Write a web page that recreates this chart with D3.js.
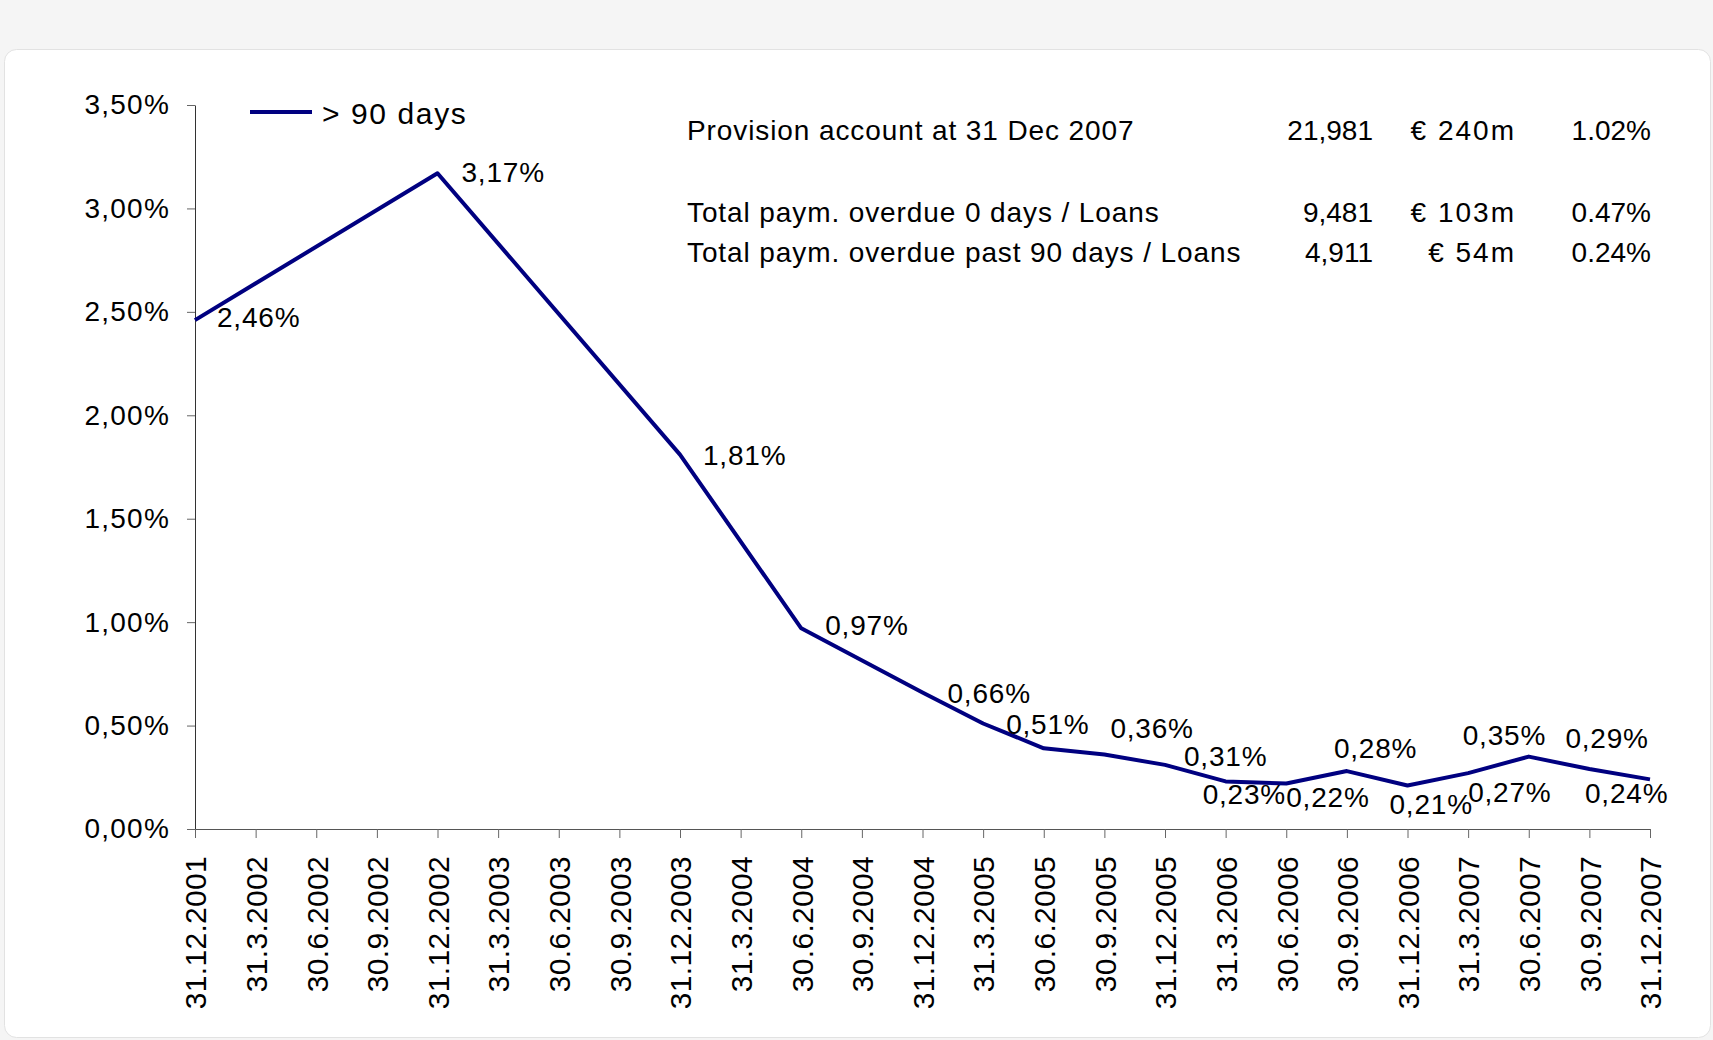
<!DOCTYPE html>
<html>
<head>
<meta charset="utf-8">
<script src="https://cdn.jsdelivr.net/npm/d3@7"></script>
<style>
  html, body { margin: 0; padding: 0; background: #f5f5f5; }
  svg { display: block; font-family: "Liberation Sans", Arial, sans-serif; }
</style>
</head>
<body>
<svg id="chart"></svg>
<script>
// quarter-end dates on the x axis
var dates = ["31.12.2001", "31.3.2002", "30.6.2002", "30.9.2002", "31.12.2002",
             "31.3.2003", "30.6.2003", "30.9.2003", "31.12.2003", "31.3.2004",
             "30.6.2004", "30.9.2004", "31.12.2004", "31.3.2005", "30.6.2005",
             "30.9.2005", "31.12.2005", "31.3.2006", "30.6.2006", "30.9.2006",
             "31.12.2006", "31.3.2007", "30.6.2007", "30.9.2007", "31.12.2007"];
// > 90 days overdue ratio (null = no reading for that quarter)
var overdue90 = [0.0246, null, null, null, 0.0317,
                 null, null, null, 0.0181, null,
                 0.0097, null, 0.0066, 0.0051, 0.0039,
                 0.0036, 0.0031, 0.0023, 0.0022, 0.0028,
                 0.0021, 0.0027, 0.0035, 0.0029, 0.0024];
// which points carry a data label
var labelled = [1, 0, 0, 0, 1, 0, 0, 0, 1, 0, 1, 0, 1, 1, 0, 1, 1, 1, 1, 1, 1, 1, 1, 1, 1];
var yTicks = [0, 0.005, 0.01, 0.015, 0.02, 0.025, 0.03, 0.035];
var seriesName = "> 90 days";

var tableLabels = ["Provision account at 31 Dec 2007", "Total paym. overdue 0 days / Loans", "Total paym. overdue past 90 days / Loans"];
var tableCounts = ["21,981", "9,481", "4,911"];
var tableAmounts = ["\u20ac 240m", "\u20ac 103m", "\u20ac 54m"];
var tableRatios = ["1.02%", "0.47%", "0.24%"];

var width = 1713, height = 1040;
var navy = "#000080";

var svg = d3.select("#chart").attr("width", width).attr("height", height);

svg.append("rect").attr("width", width).attr("height", height).attr("fill", "#f5f5f5");
svg.append("rect")
   .attr("x", 4.5).attr("y", 49.5).attr("width", 1706).attr("height", 988)
   .attr("rx", 12).attr("fill", "#fff").attr("stroke", "#e2e2e2");

var x = d3.scalePoint().domain(dates).range([195, 1650]);
var y = d3.scaleLinear().domain([0, 0.035]).range([829, 105]);

var pct = function(v) { return d3.format(".2%")(v).replace(".", ","); };

// y axis
var yAxis = svg.append("g")
   .attr("transform", "translate(195,0)")
   .call(d3.axisLeft(y).tickValues(yTicks).tickSize(8).tickSizeOuter(0).tickPadding(17).tickFormat(pct));
yAxis.select(".domain").attr("stroke", "#333");
yAxis.selectAll(".tick line").attr("stroke", "#666");
yAxis.selectAll(".tick text")
   .attr("font-size", 28).attr("letter-spacing", 1.2).attr("fill", "#000")
   .attr("font-family", "Liberation Sans, Arial, sans-serif");

// x axis
var xAxis = svg.append("g")
   .attr("transform", "translate(0,829)")
   .call(d3.axisBottom(x).tickSize(9).tickSizeOuter(0));
xAxis.select(".domain").attr("stroke", "#555");
xAxis.selectAll(".tick line").attr("stroke", "#666");
xAxis.selectAll(".tick text")
   .attr("transform", "rotate(-90)")
   .attr("text-anchor", "end")
   .attr("x", -27).attr("y", 0).attr("dy", "0.36em")
   .attr("font-size", 30).attr("letter-spacing", 0.3).attr("fill", "#000")
   .attr("font-family", "Liberation Sans, Arial, sans-serif");

// series line
var pts = dates.map(function(d, i) { return { date: d, value: overdue90[i], label: labelled[i], i: i }; })
               .filter(function(p) { return p.value !== null; });

var line = d3.line()
   .x(function(p) { return x(p.date); })
   .y(function(p) { return y(p.value); });

svg.append("path")
   .datum(pts)
   .attr("fill", "none")
   .attr("stroke", navy)
   .attr("stroke-width", 4)
   .attr("stroke-linejoin", "round")
   .attr("d", line);

// label placement (dx, dy from the point, label left edge / vertical centre)
var labelShift = {
  "31.12.2001": [22, -3], "31.12.2002": [24, -1], "31.12.2003": [23, 0],
  "30.6.2004": [24, -3], "31.12.2004": [25, 0], "31.3.2005": [23, 0],
  "30.9.2005": [6, -27], "31.12.2005": [19, -9], "31.3.2006": [-23, 12],
  "30.6.2006": [0, 13], "30.9.2006": [-13, -23], "31.12.2006": [-18, 18],
  "31.3.2007": [0, 19], "30.6.2007": [-66, -22], "30.9.2007": [-24, -31],
  "31.12.2007": [-65, 14]
};

svg.append("g").selectAll("text")
   .data(pts.filter(function(p) { return p.label; }))
   .enter().append("text")
   .attr("x", function(p) { return x(p.date) + labelShift[p.date][0]; })
   .attr("y", function(p) { return y(p.value) + labelShift[p.date][1]; })
   .attr("dy", "0.36em")
   .attr("font-size", 28).attr("letter-spacing", 0.8)
   .text(function(p) { return pct(p.value); });

// legend
var lg = svg.append("g");
lg.append("line").attr("x1", 250).attr("x2", 312).attr("y1", 112).attr("y2", 112)
  .attr("stroke", navy).attr("stroke-width", 4);
lg.append("text").attr("x", 322).attr("y", 113).attr("dy", "0.36em")
  .attr("font-size", 30).attr("letter-spacing", 1.6).text(seriesName);

// figures table
var rowY = [140, 222, 262];
var tbl = svg.append("g").attr("font-size", 28);
tbl.selectAll(".lbl").data(tableLabels).enter().append("text")
   .attr("x", 687).attr("y", function(d, i) { return rowY[i]; })
   .attr("letter-spacing", 0.9).text(function(d) { return d; });
tbl.selectAll(".cnt").data(tableCounts).enter().append("text")
   .attr("x", 1373).attr("y", function(d, i) { return rowY[i]; })
   .attr("text-anchor", "end").text(function(d) { return d; });
tbl.selectAll(".amt").data(tableAmounts).enter().append("text")
   .attr("x", 1516).attr("y", function(d, i) { return rowY[i]; })
   .attr("text-anchor", "end").attr("letter-spacing", 2).text(function(d) { return d; });
tbl.selectAll(".rat").data(tableRatios).enter().append("text")
   .attr("x", 1651).attr("y", function(d, i) { return rowY[i]; })
   .attr("text-anchor", "end").text(function(d) { return d; });
</script>
</body>
</html>
